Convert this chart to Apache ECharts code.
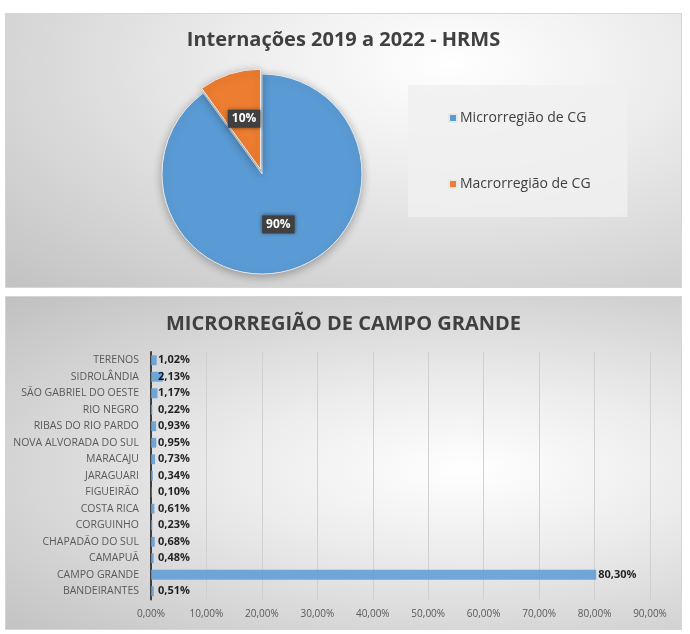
<!DOCTYPE html>
<html>
<head>
<meta charset="utf-8">
<script src="https://cdn.jsdelivr.net/npm/echarts@6/dist/echarts.min.js"></script>
<style>
  html, body { margin: 0; padding: 0; background: #fff; }
  .panel { position: absolute; left: 5px; width: 677px; box-sizing: border-box; border: 1px solid #d6d6d6; }
  #pie { top: 13px; height: 275px; background: radial-gradient(ellipse at 66% 18%, #ffffff 0%, #ececec 35%, #c2c2c2 100%); }
  #bar { top: 296px; height: 334px; background: radial-gradient(ellipse at 68% 52%, #ffffff 0%, #ececec 35%, #c0c0c0 100%); }
</style>
</head>
<body>
<div id="pie" class="panel"></div>
<div id="bar" class="panel"></div>
<script>
// dados do gráfico de pizza
const pieNames = ["Microrregião de CG", "Macrorregião de CG"];
const pieValues = [90, 10];

// dados do gráfico de barras (de baixo para cima)
const cities = [
  "BANDEIRANTES", "CAMPO GRANDE", "CAMAPUÃ", "CHAPADÃO DO SUL", "CORGUINHO",
  "COSTA RICA", "FIGUEIRÃO", "JARAGUARI", "MARACAJU", "NOVA ALVORADA DO SUL",
  "RIBAS DO RIO PARDO", "RIO NEGRO", "SÃO GABRIEL DO OESTE", "SIDROLÂNDIA", "TERENOS"
];
const cityValues = [0.51, 80.30, 0.48, 0.68, 0.23, 0.61, 0.10, 0.34, 0.73, 0.95, 0.93, 0.22, 1.17, 2.13, 1.02];

const FONT = "'Open Sans', 'Noto Sans', sans-serif";
const fmtPct = (v) => v.toFixed(2).replace(".", ",") + "%";

//-----------------------------pizza-----------------------------//
const pieChart = echarts.init(document.getElementById("pie"));
pieChart.setOption({
  animation: false,
  color: ["#5b9bd5", "#ed7d31"],
  title: {
    text: "Internações 2019 a 2022 - HRMS",
    left: "center",
    top: 11,
    textStyle: { fontFamily: FONT, fontSize: 20, fontWeight: "bold", color: "#404040" }
  },
  legend: {
    orient: "vertical",
    left: 402,
    top: 71,
    padding: [26, 37, 26, 40],
    itemGap: 52,
    itemWidth: 8,
    itemHeight: 8,
    icon: "rect",
    backgroundColor: "rgba(240,240,240,0.85)",
    textStyle: { fontFamily: FONT, fontSize: 14, color: "#404040", padding: [0, 0, 0, -2] }
  },
  series: [{
    type: "pie",
    center: [256, 160],
    radius: 100,
    startAngle: 90,
    clockwise: true,
    selectedMode: "single",
    selectedOffset: 5,
    itemStyle: {
      borderColor: "#e8e8e8",
      borderWidth: 1,
      shadowBlur: 10,
      shadowColor: "rgba(0,0,0,0.3)",
      shadowOffsetY: 2
    },
    label: {
      position: "inside",
      formatter: (p) => p.value + "%",
      color: "#fff",
      fontFamily: FONT,
      fontSize: 12,
      fontWeight: "bold",
      backgroundColor: "#404040",
      padding: [3, 4],
      shadowBlur: 4,
      shadowColor: "rgba(0,0,0,0.5)"
    },
    labelLine: { show: false },
    emphasis: { disabled: true },
    data: pieNames.map((n, i) => ({ name: n, value: pieValues[i], selected: i === 1 }))
  }]
});

//-----------------------------barras-----------------------------//
const barChart = echarts.init(document.getElementById("bar"));
barChart.setOption({
  animation: false,
  title: {
    text: "MICRORREGIÃO DE CAMPO GRANDE",
    left: "center",
    top: 12,
    textStyle: { fontFamily: FONT, fontSize: 20, fontWeight: "bold", color: "#404040" }
  },
  grid: { left: 145, top: 55, width: 499, height: 247.5 },
  xAxis: {
    type: "value",
    min: 0,
    max: 90,
    interval: 10,
    axisLine: { show: false },
    axisTick: { show: false },
    splitLine: { lineStyle: { color: "#d0d0d0" } },
    axisLabel: { formatter: fmtPct, fontFamily: FONT, fontSize: 10, color: "#595959", margin: 10 }
  },
  yAxis: {
    type: "category",
    data: cities,
    axisLine: { lineStyle: { color: "#404040", width: 2 } },
    axisTick: { show: false },
    axisLabel: { fontFamily: FONT, fontSize: 10.5, color: "#595959", margin: 12 }
  },
  series: [{
    type: "bar",
    barWidth: "60%",
    itemStyle: { color: "#5b9bd5", opacity: 0.85 },
    label: {
      show: true,
      position: "insideLeft",
      distance: 7,
      formatter: (p) => fmtPct(p.value),
      fontFamily: FONT,
      fontSize: 11,
      fontWeight: "bold",
      color: "#000"
    },
    emphasis: { disabled: true },
    data: cityValues.map((v) => v > 10 ? { value: v, label: { position: "right", distance: 2 } } : v)
  }]
});
</script>
</body>
</html>
